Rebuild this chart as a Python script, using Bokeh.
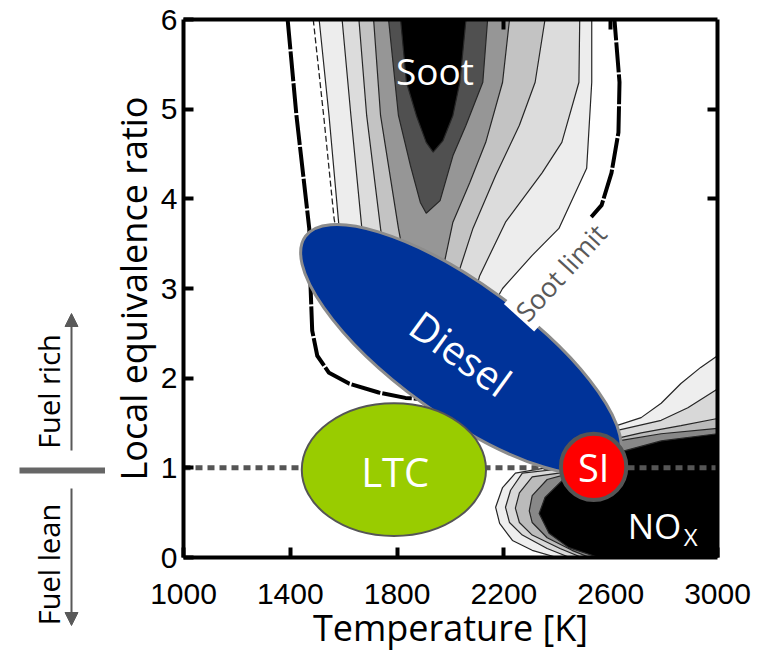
from bokeh.plotting import figure
from bokeh.layouts import row
from bokeh.models import (Label, Arrow, NormalHead, FixedTicker, LinearAxis,
                          Range1d, ColumnDataSource, CustomJSTickFormatter)
from bokeh.core.properties import value
from bokeh.embed import file_html
from bokeh.resources import INLINE

# ------------------------------------------------------------------ data
T_ticks = [1000, 1400, 1800, 2200, 2600, 3000]
phi_ticks = [0, 1, 2, 3, 4, 5, 6]
top_ticks = [2200, 2600]
right_ticks = [4, 5]

# soot contour bands, outer -> inner (Temperature [K], local equivalence ratio)
soot_T = [
    [1508, 1545, 1583, 1601, 1898, 2139, 2195, 2306, 2406, 2510, 2529, 2529],
    [1594, 1627, 1668, 1683, 1935, 2084, 2109, 2206, 2343, 2417, 2481, 2484],
    [1657, 1686, 1738, 1750, 1954, 2028, 2035, 2084, 2169, 2258, 2317, 2354],
    [1712, 1738, 1805, 1824, 1972, 2009, 2072, 2132, 2195, 2221],
    [1768, 1805, 1850, 1887, 1909, 1961, 2009, 2058, 2121, 2139],
    [1813, 1835, 1872, 1909, 1935, 1972, 2009, 2035, 2058],
]
soot_phi = [
    [6.0, 4.93, 3.67, 3.37, 2.59, 2.70, 3.00, 3.37, 3.67, 4.34, 5.30, 6.0],
    [6.0, 4.93, 3.67, 3.48, 2.64, 2.87, 3.14, 3.74, 4.29, 4.63, 5.30, 6.0],
    [6.0, 4.93, 3.67, 3.42, 2.64, 3.03, 3.22, 3.67, 4.26, 4.82, 5.30, 6.0],
    [6.0, 4.93, 3.67, 3.37, 3.22, 3.74, 4.18, 4.63, 5.30, 6.0],
    [6.0, 4.93, 4.37, 3.96, 3.84, 3.98, 4.48, 4.82, 5.30, 6.0],
    [6.0, 5.30, 4.93, 4.63, 4.52, 4.65, 4.93, 5.30, 6.0],
]

# soot limit (thick) and thin dashed contour
soot_limit_T = [1390, 1423, 1471, 1475, 1482, 1501, 1545, 1620, 1731, 1831,
                1972, 2121, 2269, 2417, 2566, 2603, 2629, 2633, 2614]
soot_limit_phi = [6.0, 4.93, 3.67, 3.09, 2.53, 2.25, 2.06, 1.94, 1.84, 1.78,
                  1.75, 2.31, 2.87, 3.42, 3.93, 4.29, 4.74, 5.30, 6.0]
soot_dash_T = [1486, 1527, 1564, 1575]
soot_dash_phi = [6.0, 4.87, 3.78, 3.59]

# NOx contour bands, outer -> inner
nox_T = [
    [3000, 2937, 2863, 2789, 2714, 2622, 2529, 2417, 2243, 2195, 2169, 2184, 2232, 2306, 2399, 3000],
    [3000, 2889, 2789, 2629, 2529, 2417, 2269, 2225, 2206, 2221, 2269, 2362, 2447, 3000],
    [3000, 2863, 2714, 2640, 2529, 2425, 2306, 2258, 2243, 2258, 2306, 2410, 2492, 3000],
    [3000, 2789, 2629, 2529, 2436, 2362, 2306, 2295, 2306, 2362, 2455, 2521, 3000],
    [3000, 2789, 2651, 2529, 2429, 2354, 2332, 2369, 2443, 2555, 3000],
]
nox_phi = [
    [2.25, 2.12, 1.94, 1.72, 1.56, 1.47, 1.30, 1.03, 0.94, 0.78, 0.56, 0.38, 0.19, 0.08, 0.0, 0.0],
    [1.88, 1.67, 1.53, 1.42, 1.25, 0.99, 0.94, 0.75, 0.56, 0.39, 0.25, 0.10, 0.0, 0.0],
    [1.55, 1.47, 1.39, 1.34, 1.19, 0.95, 0.90, 0.72, 0.55, 0.39, 0.25, 0.10, 0.0, 0.0],
    [1.44, 1.38, 1.30, 1.14, 0.93, 0.87, 0.69, 0.52, 0.39, 0.22, 0.08, 0.0, 0.0],
    [1.38, 1.30, 1.19, 1.08, 0.89, 0.67, 0.49, 0.27, 0.11, 0.0, 0.0],
]

phi_stoich = 1.0

# combustion regimes (ellipses)
regime_name = ["Diesel", "LTC", "SI"]
regime_T = [2039, 1788, 2536]
regime_phi = [2.32, 0.98, 1.01]
regime_dT = [1440, 690, 245]
regime_dphi = [1.47, 1.48, 0.74]
regime_angle = [-36, 0, 0]

# text labels (text, T, phi) - centre of the lettering
soot_label = ("Soot", 1942, 5.43)
diesel_label = ("Diesel", 2039, 2.28)
ltc_label = ("LTC", 1793, 0.96)
si_label = ("SI", 2536, 1.01)
nox_label = ("NO", 2764, 0.36)
nox_sub = ("X", 2900, 0.23)
soot_limit_label = ("Soot limit", 2412, 3.18)

x_title = "Temperature [K]"
y_title = "Local equivalence ratio"
rich_text = "Fuel rich"
lean_text = "Fuel lean"

# ------------------------------------------------------------------ styles
FONT = "Open Sans"
TICK_FONT = "Liberation Sans"
soot_fill = ["#ededed", "#dcdcdc", "#c3c3c3", "#969696", "#505050", "#000000"]
nox_fill = ["#eeeeee", "#d8d8d8", "#bbbbbb", "#888888", "#000000"]
regime_fill = ["#003399", "#99cc00", "#ff0000"]
regime_line = ["#8c8c8c", "#555555", "#555555"]
regime_lw = [3, 2, 4]

W_LEFT = 105
H = 654

p = figure(width=757 - W_LEFT, height=H,
           x_range=Range1d(T_ticks[0], T_ticks[-1]),
           y_range=Range1d(phi_ticks[0], phi_ticks[-1]),
           output_backend="svg", toolbar_location=None,
           min_border_left=178 - W_LEFT, min_border_right=40,
           min_border_top=19, min_border_bottom=97,
           background_fill_color="white", border_fill_color="white",
           outline_line_color=None)
p.grid.visible = False


def style_axis(ax, labels=True):
    ax.axis_line_width = 4
    ax.axis_line_color = "black"
    ax.major_tick_in = 10
    ax.major_tick_out = 0
    ax.major_tick_line_width = 4
    ax.major_tick_line_color = "black"
    ax.minor_tick_line_color = None
    if labels:
        ax.major_label_text_font = TICK_FONT
        ax.major_label_text_font_size = "30px"
        ax.major_label_text_color = "black"
        ax.axis_label_text_font = FONT
        ax.axis_label_text_font_style = "normal"
        ax.axis_label_text_color = "black"
        ax.axis_label_standoff = 0
    else:
        ax.formatter = CustomJSTickFormatter(code="return ''")
        ax.major_label_text_font_size = "1px"
        ax.major_label_standoff = 0


xa = p.xaxis[0]
ya = p.yaxis[0]
style_axis(xa)
style_axis(ya)
xa.ticker = FixedTicker(ticks=T_ticks)
ya.ticker = FixedTicker(ticks=phi_ticks)
xa.major_label_standoff = 26
xa.axis_label_standoff = -4
ya.major_label_standoff = 6
xa.axis_label = x_title
ya.axis_label = y_title
xa.axis_label_text_font_size = "36px"
ya.axis_label_text_font_size = "36px"

top_ax = LinearAxis(ticker=FixedTicker(ticks=top_ticks))
right_ax = LinearAxis(ticker=FixedTicker(ticks=right_ticks))
style_axis(top_ax, labels=False)
style_axis(right_ax, labels=False)
p.add_layout(top_ax, "above")
p.add_layout(right_ax, "right")

# soot bands
p.patches(xs=soot_T, ys=soot_phi, fill_color=soot_fill,
          line_color="#262626", line_width=1.2)
# NOx bands
p.patches(xs=nox_T, ys=nox_phi, fill_color=nox_fill,
          line_color="#262626", line_width=1.2)

# thin dashed contour and thick soot limit
p.line(soot_dash_T, soot_dash_phi, line_color="#222222", line_width=1.3,
       line_dash="6 3")
p.line(soot_limit_T, soot_limit_phi, line_color="black", line_width=4,
       line_dash="30 2", line_join="round")

# stoichiometric line
p.line([T_ticks[0], T_ticks[-1]], [phi_stoich, phi_stoich],
       line_color="#555555", line_width=5, line_dash="7 5")

# regimes
reg_src = ColumnDataSource(dict(x=regime_T, y=regime_phi, w=regime_dT,
                                h=regime_dphi, a=regime_angle,
                                fill=regime_fill, line=regime_line,
                                lw=regime_lw))
p.ellipse(x="x", y="y", width="w", height="h", angle="a", angle_units="deg",
          fill_color="fill", line_color="line", line_width="lw",
          source=reg_src)


def add_text(fig, lbl, size, angle=0, color="white"):
    fig.text(x=[lbl[1]], y=[lbl[2]], text=[lbl[0]], angle=angle,
             angle_units="deg", text_font=value(FONT),
             text_font_size=value(size), text_color=color,
             text_align="center", text_baseline="middle")


add_text(p, soot_label, "37px")
add_text(p, diesel_label, "40px", angle=-36)
add_text(p, ltc_label, "40px")
add_text(p, si_label, "38px")
add_text(p, nox_label, "35px")
add_text(p, nox_sub, "24px")

p.add_layout(Label(x=soot_limit_label[1], y=soot_limit_label[2],
                   text=soot_limit_label[0], angle=47.6, angle_units="deg",
                   text_font=FONT, text_font_size="27px", text_color="#595959",
                   text_align="center", text_baseline="middle",
                   background_fill_color="white", padding=2))

# ------------------------------------------------ left guide (fuel rich / lean)
g = figure(width=W_LEFT, height=H, x_range=Range1d(0, W_LEFT),
           y_range=Range1d(0, H), output_backend="svg", toolbar_location=None,
           x_axis_location=None, y_axis_location=None,
           min_border=0, min_border_left=0, min_border_right=0,
           min_border_top=0, min_border_bottom=0,
           background_fill_color="white", border_fill_color="white",
           outline_line_color=None)
g.grid.visible = False
g.frame_align = False
p.frame_align = False

add_text(g, (rich_text, 48, H - 391), "29px", angle=90, color="black")
add_text(g, (lean_text, 48, H - 564), "29px", angle=90, color="black")
head_style = dict(size=13, fill_color="#595959", line_color="#595959")
g.add_layout(Arrow(end=NormalHead(**head_style), x_start=71, y_start=H - 450,
                   x_end=71, y_end=H - 313, line_color="#595959", line_width=2))
g.add_layout(Arrow(end=NormalHead(**head_style), x_start=71, y_start=H - 488,
                   x_end=71, y_end=H - 625, line_color="#595959", line_width=2))
g.add_layout(Arrow(end=None, x_start=19, y_start=H - 470, x_end=W_LEFT,
                   y_end=H - 470, line_color="#666666", line_width=6))

layout = row(g, p, spacing=0)
open("out.html", "w").write(file_html(layout, INLINE))
